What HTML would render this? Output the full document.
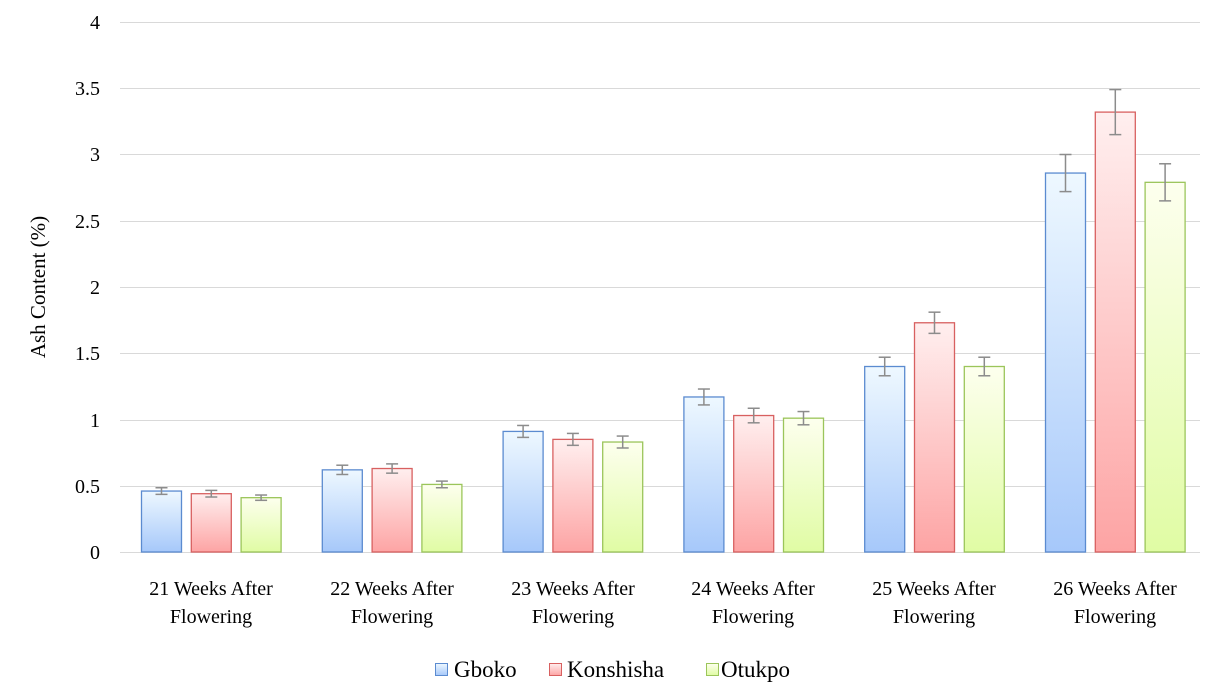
<!DOCTYPE html>
<html><head><meta charset="utf-8"><style>
html,body{margin:0;padding:0;background:#fff}
svg{display:block}
text{font-family:"Liberation Serif",serif;fill:#000}
</style></head><body>
<svg id="s" width="1213" height="692" viewBox="0 0 1213 692">
<defs>
<linearGradient id="gb" x1="0" y1="0" x2="0" y2="1"><stop offset="0" stop-color="#eef8ff"/><stop offset="1" stop-color="#a6c8fa"/></linearGradient>
<linearGradient id="gr" x1="0" y1="0" x2="0" y2="1"><stop offset="0" stop-color="#ffefef"/><stop offset="1" stop-color="#fda4a4"/></linearGradient>
<linearGradient id="gg" x1="0" y1="0" x2="0" y2="1"><stop offset="0" stop-color="#fdffee"/><stop offset="1" stop-color="#e0fca4"/></linearGradient>
</defs>
<g stroke="#d9d9d9" stroke-width="1">
<line x1="120" x2="1200" y1="22.5" y2="22.5"/><line x1="120" x2="1200" y1="88.5" y2="88.5"/>
<line x1="120" x2="1200" y1="154.5" y2="154.5"/><line x1="120" x2="1200" y1="221.5" y2="221.5"/>
<line x1="120" x2="1200" y1="287.5" y2="287.5"/><line x1="120" x2="1200" y1="353.5" y2="353.5"/>
<line x1="120" x2="1200" y1="420.5" y2="420.5"/><line x1="120" x2="1200" y1="486.5" y2="486.5"/>
<line x1="120" x2="1200" y1="552.5" y2="552.5"/>
</g>
<g font-size="20" text-anchor="end">
<text x="100" y="29">4</text><text x="100" y="95">3.5</text><text x="100" y="161">3</text>
<text x="100" y="228">2.5</text><text x="100" y="294">2</text><text x="100" y="360">1.5</text>
<text x="100" y="427">1</text><text x="100" y="493">0.5</text><text x="100" y="559">0</text>
</g>
<text transform="translate(45,287) rotate(-90)" font-size="21" text-anchor="middle">Ash  Content (%)</text>
<g id="bars"></g>
<g font-size="20" text-anchor="middle">
<text x="211" y="595">21 Weeks After</text><text x="211" y="623">Flowering</text>
<text x="392" y="595">22 Weeks After</text><text x="392" y="623">Flowering</text>
<text x="573" y="595">23 Weeks After</text><text x="573" y="623">Flowering</text>
<text x="753" y="595">24 Weeks After</text><text x="753" y="623">Flowering</text>
<text x="934" y="595">25 Weeks After</text><text x="934" y="623">Flowering</text>
<text x="1115" y="595">26 Weeks After</text><text x="1115" y="623">Flowering</text>
</g>
<rect x="435.5" y="663.5" width="12" height="12" fill="url(#gb)" stroke="#5b8bd0"/>
<rect x="549.5" y="663.5" width="12" height="12" fill="url(#gr)" stroke="#d86060"/>
<rect x="706.5" y="663.5" width="12" height="12" fill="url(#gg)" stroke="#9bc55a"/>
<g font-size="23"><text x="454" y="677">Gboko</text><text x="567" y="677">Konshisha</text><text x="721" y="677">Otukpo</text></g>
</svg>
<script>
var v=[[0.46,0.62,0.91,1.17,1.40,2.86],[0.44,0.63,0.85,1.03,1.73,3.32],[0.41,0.51,0.83,1.01,1.40,2.79]];
var e=[[0.025,0.035,0.045,0.06,0.07,0.14],[0.025,0.035,0.045,0.055,0.08,0.17],[0.02,0.025,0.045,0.05,0.07,0.14]];
var f=["url(#gb)","url(#gr)","url(#gg)"],st=["#5b8bd0","#d86060","#9bc55a"];
var h="";
for(var c=0;c<6;c++)for(var s=0;s<3;s++){
 var x=141+c*180.8+s*49.8,y=552-v[s][c]*132.5,hh=552-y;
 h+='<rect x="'+(x+0.5)+'" y="'+y+'" width="40" height="'+hh+'" fill="'+f[s]+'" stroke="'+st[s]+'" stroke-width="1.3"/>';
 var cx=x+20.5,y1=552-(v[s][c]+e[s][c])*132.5,y2=552-(v[s][c]-e[s][c])*132.5;
 h+='<g stroke="#8c8c8c" stroke-width="1.5"><line x1="'+cx+'" x2="'+cx+'" y1="'+y1+'" y2="'+y2+'"/><line x1="'+(cx-6)+'" x2="'+(cx+6)+'" y1="'+y1+'" y2="'+y1+'"/><line x1="'+(cx-6)+'" x2="'+(cx+6)+'" y1="'+y2+'" y2="'+y2+'"/></g>';
}
document.getElementById("bars").innerHTML=h;
</script>
</body></html>
